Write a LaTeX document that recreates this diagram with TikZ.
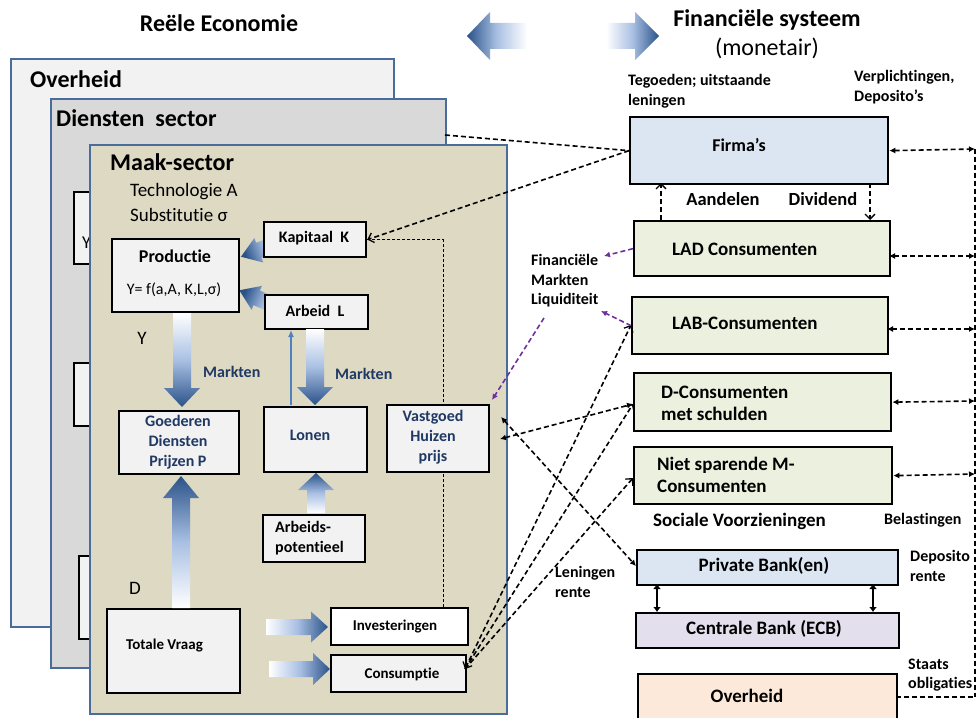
\documentclass[tikz,border=0pt]{standalone}
\usepackage{fontspec}
\setmainfont{Carlito}[Ligatures={NoCommon}]
\usetikzlibrary{arrows.meta}
\definecolor{panelblue}{HTML}{4A6C9B}
\definecolor{ovfill}{HTML}{F2F2F2}
\definecolor{dsfill}{HTML}{D9D9D9}
\definecolor{mkfill}{HTML}{DDD9C3}
\definecolor{boxgray}{HTML}{F2F2F2}
\definecolor{navy}{HTML}{1F3864}
\definecolor{firmfill}{HTML}{DCE6F2}
\definecolor{consfill}{HTML}{EBF1DE}
\definecolor{ecbfill}{HTML}{E4DFEC}
\definecolor{govfill}{HTML}{FDE9D9}
\definecolor{purp}{HTML}{7030A0}
\definecolor{adark}{HTML}{2A5289}
\definecolor{amid}{HTML}{A9C0E3}
\definecolor{thinblue}{HTML}{4F81BD}
% tail x, tail y, direction angle, length, body half width, head half width, head length, shading angle
\newcommand{\gradarrow}[8]{%
  \begin{scope}[shift={(#1,#2)},rotate=#3]
    \shade[top color=adark,bottom color=white,middle color=amid,shading angle=#8]
      (0,-#5) -- (#4-#7,-#5) -- (#4-#7,-#6) -- (#4,0) -- (#4-#7,#6) -- (#4-#7,#5) -- (0,#5) -- cycle;
  \end{scope}}
\begin{document}
\begin{tikzpicture}[x=1pt,y=-1pt,
  panel/.style={draw=panelblue,line width=2pt,anchor=north west,inner sep=0pt},
  bx/.style={draw=black,line width=2.3pt,fill=boxgray,anchor=north west,inner sep=0pt},
  big/.style={font=\bfseries\fontsize{24}{28}\selectfont,inner sep=0pt},
  bigr/.style={font=\fontsize{24}{28}\selectfont,inner sep=0pt},
  reg/.style={font=\fontsize{19}{23}\selectfont,inner sep=0pt,align=left},
  lb/.style={font=\bfseries\fontsize{16}{20}\selectfont,inner sep=0pt},
  lbs/.style={font=\bfseries\fontsize{15}{20}\selectfont,inner sep=0pt},
  lbb/.style={font=\bfseries\fontsize{19}{22}\selectfont,inner sep=0pt,align=left},
  nv/.style={font=\bfseries\fontsize{16}{20}\selectfont,inner sep=0pt,text=navy,align=center},
  ann/.style={font=\bfseries\fontsize{16}{19.5}\selectfont,inner sep=0pt,align=left},
  dsh/.style={line width=1.6pt,dash pattern=on 5pt off 3pt},
  thindsh/.style={line width=1pt,dash pattern=on 3pt off 2pt},
  barb/.tip={Straight Barb[length=5pt,width=10pt,line width=1.3pt]},
  sm/.tip={Latex[length=6pt,width=6pt]}
]
\clip (0,0) rectangle (976,717);
\fill[white] (0,0) rectangle (976,717);

% ---- titles
\node[big] (tRE) at (219,23) {Reële Economie};
\node[big] (tFS) at (767,20) {Financiële systeem};
\node[bigr] (tMO) at (767,48) {(monetair)};
\gradarrow{527}{36}{180}{60}{13}{24}{23}{90}
\gradarrow{606}{36}{0}{53}{13}{24}{24}{-90}

% ---- background panels
\node[panel,fill=ovfill,minimum width=383pt,minimum height=568pt] (pOv) at (10,58) {};
\node[big,anchor=west] (tOv) at (30,79) {Overheid};
\node[panel,fill=dsfill,minimum width=395pt,minimum height=569pt] (pDs) at (50,98) {};
\node[big,anchor=west] (tDs) at (56,118) {Diensten\ \ sector};
\node[bx,minimum width=40pt,minimum height=72pt] (h1) at (73,191) {};
\node[font=\fontsize{18}{20}\selectfont,inner sep=0pt,anchor=west] (hY) at (82,243) {Y};
\node[bx,minimum width=40pt,minimum height=63pt] (h2) at (73,362) {};
\node[bx,minimum width=40pt,minimum height=83pt] (h3) at (78,555) {};
\coordinate (dsR) at (445,135);

% ---- Maak-sector panel
\node[panel,fill=mkfill,minimum width=417pt,minimum height=569pt] (pMk) at (89,144) {};
\node[big,anchor=west] (tMk) at (110,162) {Maak-sector};
\node[reg,anchor=west] (tTech) at (130,192) {Technologie A};
\node[reg,anchor=west] (tSub) at (130,215) {Substitutie σ};

% diagonal gradient arrows (behind boxes)
\gradarrow{287}{240}{200}{49}{8}{13}{19}{110}
\gradarrow{287}{311}{156.5}{52}{8}{13}{19}{66.5}

\coordinate (invT) at (443,607);

% ---- inner boxes
\node[bx,minimum width=127pt,minimum height=73pt] (prod) at (111,238) {};
\node[font=\bfseries\fontsize{18}{20}\selectfont,inner sep=0pt] (tProd) at (175,256) {Productie};
\node[font=\fontsize{16}{20}\selectfont,inner sep=0pt] (tF) at (174,290) {Y= f(a,A, K,L,σ)};
\node[bx,minimum width=102pt,minimum height=35pt] (kap) at (263,221) {};
\node[lb] (tKap) at (314,238) {Kapitaal\ \ K};
\node[bx,minimum width=103pt,minimum height=34pt] (arb) at (264,294) {};
\node[lb] (tArb) at (315,311) {Arbeid\ \ L};
\draw[thindsh] (invT) |- (kap.east);
\node[bx,minimum width=120pt,minimum height=63pt] (goed) at (118,410) {};
\node[nv] (tGoed) at (178,442) {Goederen\\Diensten\\Prijzen P};
\node[bx,minimum width=103pt,minimum height=65pt] (lon) at (263,406) {};
\node[nv] (tLon) at (310,435) {Lonen};
\node[bx,minimum width=102pt,minimum height=67pt] (vast) at (386,404) {};
\node[nv] (tVast) at (433,437) {Vastgoed\\Huizen\\prijs};
\node[bx,minimum width=102pt,minimum height=47pt] (apot) at (262,514) {};
\node[lb,align=left,anchor=west] (tApot) at (275,538) {Arbeids-\\potentieel};
\node[bx,minimum width=133pt,minimum height=84pt] (tot) at (106,608) {};
\node[lbs,anchor=west] (tTot) at (126,645) {Totale Vraag};
\node[bx,fill=white,minimum width=137pt,minimum height=37pt] (inv) at (330,607) {};
\node[lbs] (tInv) at (395,626) {Investeringen};
\node[bx,minimum width=135pt,minimum height=37pt] (cons) at (330,654) {};
\node[lbs] (tCons) at (402,674) {Consumptie};

\node[font=\fontsize{19}{20}\selectfont,inner sep=0pt] (tY) at (142,338) {Y};
\node[font=\fontsize{19}{20}\selectfont,inner sep=0pt] (tD) at (135,588) {D};
\node[nv,anchor=west] (tMk1) at (203,372) {Markten};
\node[nv,anchor=west] (tMk2) at (335,374) {Markten};

% block arrows
\gradarrow{182}{313}{270}{94}{9}{18}{19}{180}
\gradarrow{181}{608}{90}{132}{9}{18}{22}{0}
\gradarrow{315}{329}{270}{76}{9}{18}{18}{180}
\gradarrow{316}{513}{90}{40}{9}{18}{17}{0}
\gradarrow{266}{627}{0}{62}{8}{15.5}{17}{-90}
\gradarrow{269}{669}{0}{61}{8}{16}{17}{-90}
\coordinate (lb1) at (291,405);
\coordinate (lb2) at (291,330);
\draw[thinblue,line width=1.3pt,-{Latex[length=7pt,width=6pt]}] (lb1) -- (lb2);

% ---- right side boxes
\node[bx,fill=firmfill,minimum width=258pt,minimum height=67pt] (firma) at (629,116) {};
\node[font=\bfseries\fontsize{18}{20}\selectfont,inner sep=0pt] (tFirma) at (739,145) {Firma’s};
\node[bx,fill=consfill,minimum width=256pt,minimum height=55pt] (lad) at (633,220) {};
\node[lbb,anchor=west] (tLad) at (672,249) {LAD Consumenten};
\node[bx,fill=consfill,minimum width=256pt,minimum height=57pt] (lab) at (631,296) {};
\node[lbb,anchor=west] (tLab) at (672,323) {LAB-Consumenten};
\node[bx,fill=consfill,minimum width=257pt,minimum height=58pt] (dcons) at (633,372) {};
\node[lbb,anchor=west] (tDc) at (661,403) {D-Consumenten\\met schulden};
\node[bx,fill=consfill,minimum width=258pt,minimum height=57pt] (niet) at (633,446) {};
\node[lbb,anchor=west] (tNs) at (657,475) {Niet sparende M-\\Consumenten};
\node[bx,fill=firmfill,minimum width=261pt,minimum height=35pt] (pbank) at (636,549) {};
\node[lbb] (tPb) at (764,566) {Private Bank(en)};
\node[bx,fill=ecbfill,minimum width=263pt,minimum height=35pt] (ecb) at (635,612) {};
\node[lbb] (tEcb) at (764,629) {Centrale Bank (ECB)};
\node[bx,fill=govfill,minimum width=259pt,minimum height=70pt] (gov) at (637,673) {};
\node[lbb] (tGov) at (747,696) {Overheid};

% right side labels
\node[ann,anchor=west] (tTeg) at (628,91) {Tegoeden; uitstaande\\leningen};
\node[ann,anchor=west] (tVer) at (854,87) {Verplichtingen,\\Deposito’s};
\node[font=\bfseries\fontsize{18.5}{20}\selectfont,inner sep=0pt] (tAand) at (723,199) {Aandelen};
\node[font=\bfseries\fontsize{18.5}{20}\selectfont,inner sep=0pt] (tDiv) at (823,199) {Dividend};
\node[ann,anchor=west] (tFin) at (531,281) {Financiële\\Markten\\Liquiditeit};
\node[lbb,anchor=west] (tSoc) at (653,521) {Sociale Voorzieningen};
\node[ann,anchor=west] (tBel) at (884,520) {Belastingen};
\node[ann,anchor=west] (tDep) at (910,566) {Deposito\\rente};
\node[ann,anchor=west] (tLen) at (555,582) {Leningen\\rente};
\node[ann,anchor=west] (tSta) at (908,675) {Staats\\obligaties};

% ---- dashed connectors
\draw[dsh] (dsR) -- (firma.west);
\draw[dsh,-barb] (firma.west) -- (kap.east);

\coordinate (aB) at (661,220); \coordinate (aT) at (661,183);
\draw[dsh,-barb] (aB) -- (aT);
\coordinate (dT) at (870,183); \coordinate (dB) at (870,220);
\draw[dsh,-barb] (dT) -- (dB);

% right vertical bus
\coordinate (v0) at (975,149);
\coordinate (v1) at (975,256); \coordinate (ladR) at (889,256);
\coordinate (v2) at (975,329); \coordinate (labR) at (887,329);
\coordinate (v3) at (975,401);
\coordinate (v4) at (975,474);
\coordinate (v5) at (975,697); \coordinate (govR) at (896,697);
\draw[dsh,line width=1.2pt] (v0) -- (v5);
\draw[dsh,sm-sm] (firma.east) -- (v0);
\draw[dsh,sm-sm] (ladR) -- (v1);
\draw[dsh,sm-sm] (labR) -- (v2);
\draw[dsh,sm-sm] (dcons.east) -- (v3);
\draw[dsh,sm-sm] (niet.east) -- (v4);
\draw[dsh] (govR) -- (v5);

% bank arrows
\coordinate (b1a) at (657,584); \coordinate (b1b) at (657,612);
\coordinate (b2a) at (873,584); \coordinate (b2b) at (873,612);
\draw[line width=2.4pt,{Latex[length=5pt,width=8pt]}-{Latex[length=5pt,width=8pt]}] (b1a) -- (b1b);
\draw[line width=2.4pt,{Latex[length=5pt,width=8pt]}-{Latex[length=5pt,width=8pt]}] (b2a) -- (b2b);

% consumptie lines
\coordinate (cR) at (465,669);
\coordinate (labL) at (631,325);
\coordinate (dcL) at (633,404);
\coordinate (nsL) at (633,478);
\draw[dsh,barb-barb] (cR) -- (labL);
\draw[dsh,-barb] (cR) -- (dcL);
\draw[dsh,-barb] (cR) -- (nsL);

% vastgoed double arrows
\coordinate (vg1) at (500,439);
\coordinate (vg2) at (501,417);
\coordinate (pbL) at (636,566);
\draw[dsh,sm-sm] (vg1) -- (dcL);
\draw[dsh,sm-sm] (vg2) -- (pbL);

% purple arrows
\coordinate (pu1) at (604,256);
\coordinate (pu2) at (601,311);
\coordinate (pu3) at (544,318);
\coordinate (pu4) at (492,400);
\draw[purp,dsh,-sm] (lad.west) -- (pu1);
\draw[purp,dsh,-sm] (lab.west) -- (pu2);
\draw[purp,dsh,-sm] (pu3) -- (pu4);
\end{tikzpicture}
\end{document}
